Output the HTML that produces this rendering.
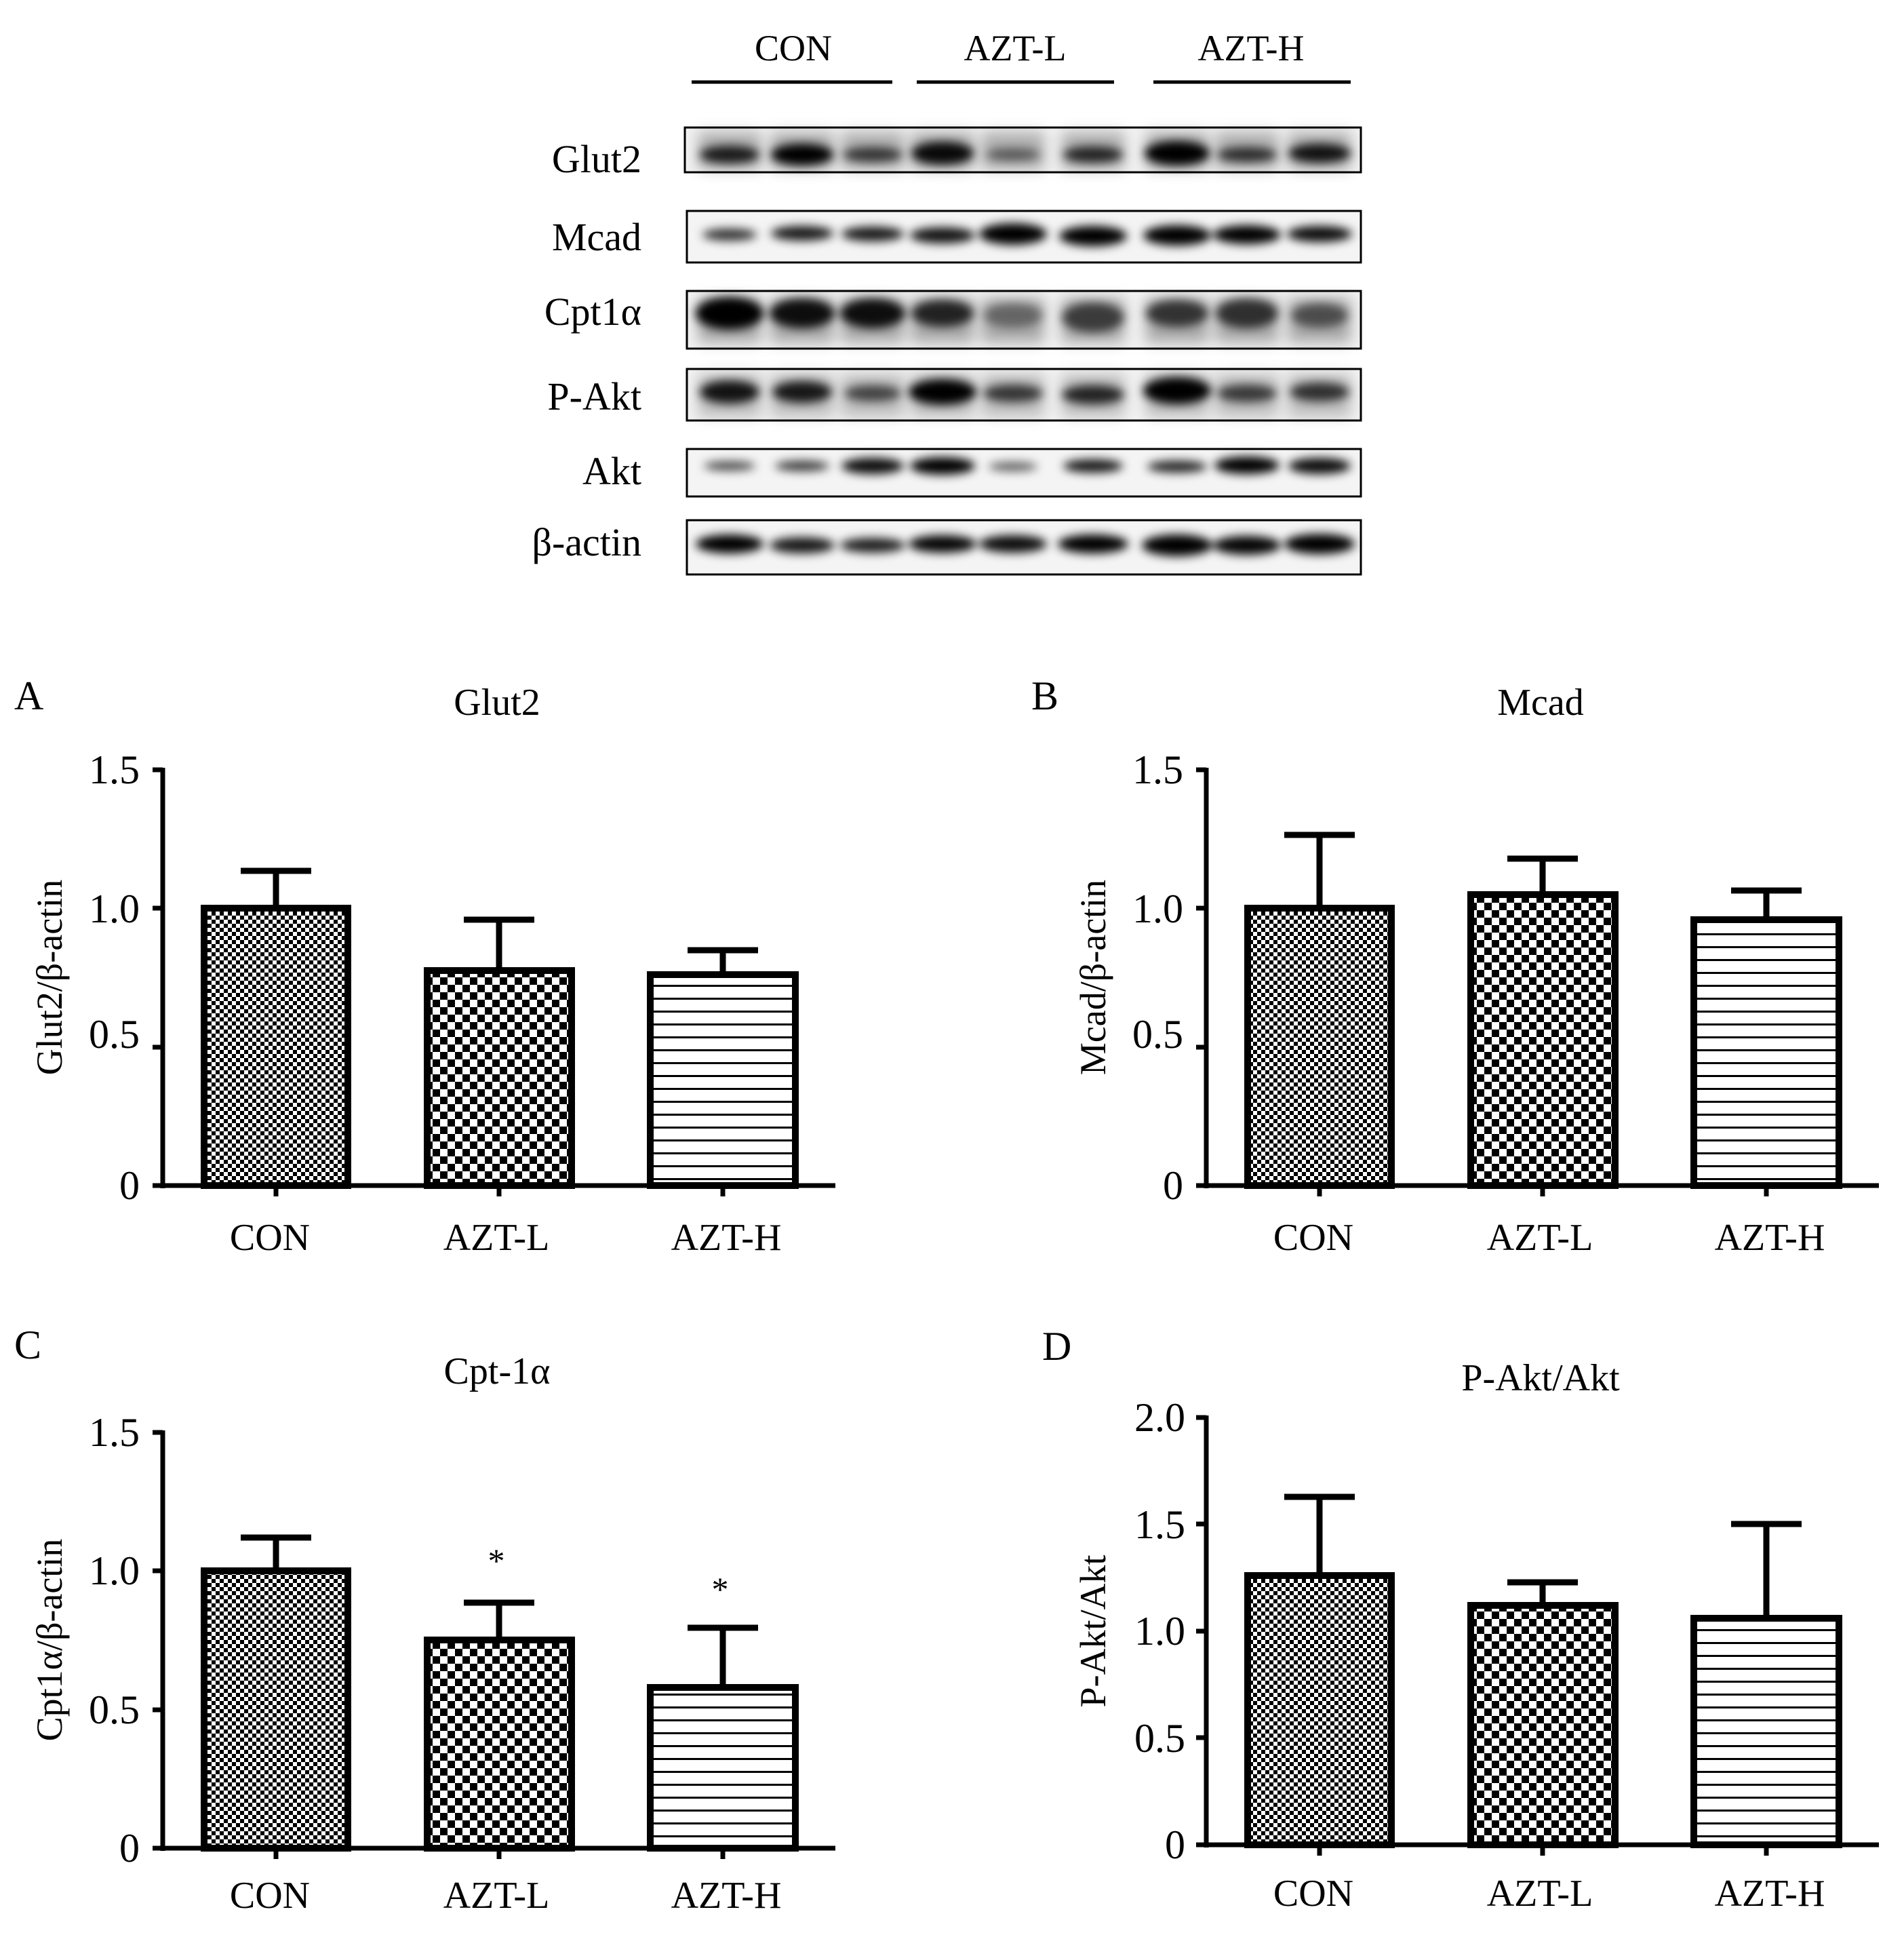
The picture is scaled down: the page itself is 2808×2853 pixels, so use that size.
<!DOCTYPE html>
<html><head><meta charset="utf-8"><style>
html,body{margin:0;padding:0;background:#fff}
svg{display:block}
text{font-family:"Liberation Serif",serif;fill:#000}
</style></head><body>
<svg width="2808" height="2853" viewBox="0 0 2808 2853" xmlns="http://www.w3.org/2000/svg">
<defs>
<pattern id="p1" width="12" height="12" patternUnits="userSpaceOnUse"><rect width="12" height="12" fill="#fff"/><rect width="6" height="6" fill="#000"/><rect x="6" y="6" width="6" height="6" fill="#000"/></pattern>
<pattern id="p2" width="22" height="22" patternUnits="userSpaceOnUse"><rect width="22" height="22" fill="#fff"/><rect width="11" height="11" fill="#000"/><rect x="11" y="11" width="11" height="11" fill="#000"/></pattern>
<pattern id="p3" width="20" height="19" patternUnits="userSpaceOnUse"><rect width="20" height="19" fill="#fff"/><rect y="8" width="20" height="3" fill="#000"/></pattern>
<filter id="bl" x="-30%" y="-100%" width="160%" height="300%"><feGaussianBlur stdDeviation="7"/></filter>
<filter id="bl2" x="-30%" y="-50%" width="160%" height="200%"><feGaussianBlur stdDeviation="10"/></filter>
</defs>

<text x="1170" y="89" font-size="54" text-anchor="middle">CON</text>
<text x="1497" y="89" font-size="54" text-anchor="middle">AZT-L</text>
<text x="1845" y="89" font-size="54" text-anchor="middle">AZT-H</text>
<g stroke="#000" stroke-width="5">
<line x1="1020" y1="121" x2="1316" y2="121"/><line x1="1352" y1="121" x2="1643" y2="121"/><line x1="1701" y1="121" x2="1992" y2="121"/>
</g>

<g font-size="58" text-anchor="end">
<text x="946" y="254">Glut2</text>
<text x="946" y="369">Mcad</text>
<text x="946" y="479">Cpt1α</text>
<text x="946" y="604">P-Akt</text>
<text x="946" y="714">Akt</text>
<text x="946" y="819">β-actin</text>
</g>

<g>
<rect x="1010" y="188" width="997" height="66" fill="#f2f2f2"/>
<rect x="1013" y="311" width="994" height="76" fill="#f4f4f4"/>
<rect x="1013" y="429" width="994" height="85" fill="#f2f2f2"/>
<rect x="1013" y="544" width="994" height="76" fill="#f2f2f2"/>
<rect x="1013" y="662" width="994" height="70" fill="#f4f4f4"/>
<rect x="1013" y="767" width="994" height="80" fill="#f4f4f4"/>
</g>
<g filter="url(#bl2)" fill="#000">
<g opacity="0.28">
<rect x="1030" y="195" width="92" height="55"/><rect x="1137" y="195" width="92" height="55"/><rect x="1241" y="195" width="92" height="55"/><rect x="1344" y="195" width="92" height="55"/><rect x="1448" y="195" width="92" height="55"/><rect x="1566" y="195" width="92" height="55"/><rect x="1690" y="195" width="92" height="55"/><rect x="1793" y="195" width="92" height="55"/><rect x="1900" y="195" width="92" height="55"/>
</g>
<g opacity="0.3">
<rect x="1030" y="440" width="92" height="65"/><rect x="1137" y="440" width="92" height="65"/><rect x="1241" y="440" width="92" height="65"/><rect x="1344" y="440" width="92" height="65"/><rect x="1448" y="440" width="92" height="65"/><rect x="1566" y="440" width="92" height="65"/><rect x="1690" y="440" width="92" height="65"/><rect x="1793" y="440" width="92" height="65"/><rect x="1900" y="440" width="92" height="65"/>
</g>
<g opacity="0.22">
<rect x="1030" y="552" width="92" height="62"/><rect x="1137" y="552" width="92" height="62"/><rect x="1241" y="552" width="92" height="62"/><rect x="1344" y="552" width="92" height="62"/><rect x="1448" y="552" width="92" height="62"/><rect x="1566" y="552" width="92" height="62"/><rect x="1690" y="552" width="92" height="62"/><rect x="1793" y="552" width="92" height="62"/><rect x="1900" y="552" width="92" height="62"/>
</g>
</g>
<g filter="url(#bl)" fill="#000">
<ellipse cx="1076" cy="228" rx="44" ry="13" opacity="0.85"/><ellipse cx="1183" cy="228" rx="46" ry="16" opacity="1"/><ellipse cx="1287" cy="228" rx="44" ry="11" opacity="0.7"/><ellipse cx="1390" cy="226" rx="46" ry="17" opacity="0.95"/><ellipse cx="1494" cy="228" rx="40" ry="9" opacity="0.5"/><ellipse cx="1612" cy="228" rx="44" ry="12" opacity="0.8"/><ellipse cx="1736" cy="226" rx="48" ry="18" opacity="1"/><ellipse cx="1839" cy="228" rx="44" ry="11" opacity="0.75"/><ellipse cx="1946" cy="226" rx="46" ry="14" opacity="0.9"/>
<ellipse cx="1076" cy="346" rx="40" ry="9" opacity="0.8"/><ellipse cx="1183" cy="344" rx="46" ry="11" opacity="0.9"/><ellipse cx="1287" cy="345" rx="46" ry="11" opacity="0.9"/><ellipse cx="1390" cy="347" rx="48" ry="12" opacity="0.92"/><ellipse cx="1494" cy="345" rx="50" ry="16" opacity="1"/><ellipse cx="1612" cy="348" rx="50" ry="15" opacity="1"/><ellipse cx="1736" cy="347" rx="50" ry="15" opacity="1"/><ellipse cx="1839" cy="346" rx="50" ry="14" opacity="1"/><ellipse cx="1946" cy="345" rx="48" ry="12" opacity="0.95"/>
<ellipse cx="1076" cy="462" rx="50" ry="24" opacity="1"/><ellipse cx="1183" cy="462" rx="48" ry="22" opacity="0.92"/><ellipse cx="1287" cy="462" rx="48" ry="22" opacity="0.92"/><ellipse cx="1390" cy="462" rx="46" ry="20" opacity="0.8"/><ellipse cx="1494" cy="465" rx="44" ry="18" opacity="0.4"/><ellipse cx="1612" cy="468" rx="46" ry="22" opacity="0.65"/><ellipse cx="1736" cy="462" rx="46" ry="20" opacity="0.7"/><ellipse cx="1839" cy="462" rx="46" ry="22" opacity="0.72"/><ellipse cx="1946" cy="465" rx="42" ry="18" opacity="0.55"/>
<ellipse cx="1076" cy="578" rx="44" ry="17" opacity="0.9"/><ellipse cx="1183" cy="578" rx="44" ry="16" opacity="0.88"/><ellipse cx="1287" cy="580" rx="42" ry="12" opacity="0.65"/><ellipse cx="1390" cy="578" rx="50" ry="19" opacity="1"/><ellipse cx="1494" cy="580" rx="44" ry="13" opacity="0.72"/><ellipse cx="1612" cy="582" rx="46" ry="14" opacity="0.82"/><ellipse cx="1736" cy="576" rx="50" ry="20" opacity="1"/><ellipse cx="1839" cy="580" rx="44" ry="13" opacity="0.7"/><ellipse cx="1946" cy="578" rx="44" ry="14" opacity="0.75"/>
<ellipse cx="1076" cy="687" rx="38" ry="7" opacity="0.7"/><ellipse cx="1183" cy="687" rx="40" ry="8" opacity="0.75"/><ellipse cx="1287" cy="687" rx="46" ry="12" opacity="0.95"/><ellipse cx="1390" cy="687" rx="48" ry="13" opacity="1"/><ellipse cx="1494" cy="688" rx="36" ry="7" opacity="0.6"/><ellipse cx="1612" cy="687" rx="44" ry="10" opacity="0.9"/><ellipse cx="1736" cy="688" rx="44" ry="9" opacity="0.85"/><ellipse cx="1839" cy="686" rx="48" ry="13" opacity="1"/><ellipse cx="1946" cy="687" rx="46" ry="12" opacity="0.95"/>
<ellipse cx="1076" cy="802" rx="50" ry="14" opacity="1"/><ellipse cx="1183" cy="804" rx="48" ry="12" opacity="0.9"/><ellipse cx="1287" cy="804" rx="48" ry="11" opacity="0.88"/><ellipse cx="1390" cy="802" rx="50" ry="13" opacity="0.98"/><ellipse cx="1494" cy="802" rx="50" ry="13" opacity="0.95"/><ellipse cx="1612" cy="802" rx="52" ry="14" opacity="1"/><ellipse cx="1736" cy="804" rx="52" ry="16" opacity="1"/><ellipse cx="1839" cy="804" rx="50" ry="14" opacity="0.98"/><ellipse cx="1946" cy="802" rx="52" ry="15" opacity="1"/>
</g>
<g fill="none" stroke="#000" stroke-width="3">
<rect x="1010" y="188" width="997" height="66"/>
<rect x="1013" y="311" width="994" height="76"/>
<rect x="1013" y="429" width="994" height="85"/>
<rect x="1013" y="544" width="994" height="76"/>
<rect x="1013" y="662" width="994" height="70"/>
<rect x="1013" y="767" width="994" height="80"/>
</g>

<!-- Panel A -->
<text x="21" y="1046" font-size="60">A</text>
<text x="733" y="1054" font-size="56" text-anchor="middle">Glut2</text>
<text transform="translate(91,1441) rotate(-90)" font-size="54" text-anchor="middle">Glut2/β-actin</text>
<g font-size="60" text-anchor="end">
<text x="206" y="1768">0</text><text x="206" y="1545">0.5</text><text x="206" y="1360">1.0</text><text x="206" y="1155">1.5</text>
</g>
<g stroke="#000" stroke-width="9" fill="none">
<line x1="407" y1="1339" x2="407" y2="1284"/><line x1="355" y1="1284" x2="459" y2="1284"/>
<line x1="736" y1="1431" x2="736" y2="1356"/><line x1="684" y1="1356" x2="788" y2="1356"/>
<line x1="1066" y1="1437" x2="1066" y2="1401"/><line x1="1014" y1="1401" x2="1118" y2="1401"/>
</g>
<g stroke="#000" stroke-width="10">
<rect x="301" y="1339" width="212" height="409" fill="url(#p1)"/>
<rect x="630" y="1431" width="213" height="317" fill="url(#p2)"/>
<rect x="959" y="1437" width="214" height="311" fill="url(#p3)"/>
</g>
<g stroke="#000" stroke-width="7">
<line x1="240" y1="1132" x2="240" y2="1752"/><line x1="236" y1="1748" x2="1232" y2="1748"/>
<line x1="225" y1="1135" x2="240" y2="1135"/><line x1="225" y1="1339" x2="240" y2="1339"/><line x1="225" y1="1544" x2="240" y2="1544"/><line x1="225" y1="1748" x2="240" y2="1748"/>
<line x1="407" y1="1748" x2="407" y2="1764"/><line x1="736" y1="1748" x2="736" y2="1764"/><line x1="1066" y1="1748" x2="1066" y2="1764"/>
</g>
<g font-size="56" text-anchor="middle"><text x="398" y="1843">CON</text><text x="732" y="1843">AZT-L</text><text x="1071" y="1843">AZT-H</text></g>

<!-- Panel B -->
<text x="1521" y="1046" font-size="60">B</text>
<text x="2272" y="1054" font-size="56" text-anchor="middle">Mcad</text>
<text transform="translate(1630,1441) rotate(-90)" font-size="54" text-anchor="middle">Mcad/β-actin</text>
<g font-size="60" text-anchor="end">
<text x="1745" y="1768">0</text><text x="1745" y="1545">0.5</text><text x="1745" y="1360">1.0</text><text x="1745" y="1155">1.5</text>
</g>
<g stroke="#000" stroke-width="9" fill="none">
<line x1="1946" y1="1339" x2="1946" y2="1231"/><line x1="1894" y1="1231" x2="1998" y2="1231"/>
<line x1="2275" y1="1319" x2="2275" y2="1266"/><line x1="2223" y1="1266" x2="2327" y2="1266"/>
<line x1="2605" y1="1356" x2="2605" y2="1313"/><line x1="2553" y1="1313" x2="2657" y2="1313"/>
</g>
<g stroke="#000" stroke-width="10">
<rect x="1840" y="1339" width="212" height="409" fill="url(#p1)"/>
<rect x="2169" y="1319" width="213" height="429" fill="url(#p2)"/>
<rect x="2498" y="1356" width="214" height="392" fill="url(#p3)"/>
</g>
<g stroke="#000" stroke-width="7">
<line x1="1779" y1="1132" x2="1779" y2="1752"/><line x1="1775" y1="1748" x2="2771" y2="1748"/>
<line x1="1764" y1="1135" x2="1779" y2="1135"/><line x1="1764" y1="1339" x2="1779" y2="1339"/><line x1="1764" y1="1544" x2="1779" y2="1544"/><line x1="1764" y1="1748" x2="1779" y2="1748"/>
<line x1="1946" y1="1748" x2="1946" y2="1764"/><line x1="2275" y1="1748" x2="2275" y2="1764"/><line x1="2605" y1="1748" x2="2605" y2="1764"/>
</g>
<g font-size="56" text-anchor="middle"><text x="1937" y="1843">CON</text><text x="2271" y="1843">AZT-L</text><text x="2610" y="1843">AZT-H</text></g>

<!-- Panel C -->
<text x="21" y="2003" font-size="60">C</text>
<text x="733" y="2040" font-size="56" text-anchor="middle">Cpt-1α</text>
<text transform="translate(91,2418) rotate(-90)" font-size="54" text-anchor="middle">Cpt1α/β-actin</text>
<g font-size="60" text-anchor="end">
<text x="206" y="2745">0</text><text x="206" y="2541">0.5</text><text x="206" y="2336">1.0</text><text x="206" y="2132">1.5</text>
</g>
<g stroke="#000" stroke-width="9" fill="none">
<line x1="407" y1="2316" x2="407" y2="2267"/><line x1="355" y1="2267" x2="459" y2="2267"/>
<line x1="736" y1="2418" x2="736" y2="2363"/><line x1="684" y1="2363" x2="788" y2="2363"/>
<line x1="1066" y1="2488" x2="1066" y2="2400"/><line x1="1014" y1="2400" x2="1118" y2="2400"/>
</g>
<g stroke="#000" stroke-width="10">
<rect x="301" y="2316" width="212" height="409" fill="url(#p1)"/>
<rect x="630" y="2418" width="213" height="307" fill="url(#p2)"/>
<rect x="959" y="2488" width="214" height="237" fill="url(#p3)"/>
</g>
<g stroke="#000" stroke-width="7">
<line x1="240" y1="2109" x2="240" y2="2729"/><line x1="236" y1="2725" x2="1232" y2="2725"/>
<line x1="225" y1="2112" x2="240" y2="2112"/><line x1="225" y1="2316" x2="240" y2="2316"/><line x1="225" y1="2521" x2="240" y2="2521"/><line x1="225" y1="2725" x2="240" y2="2725"/>
<line x1="407" y1="2725" x2="407" y2="2741"/><line x1="736" y1="2725" x2="736" y2="2741"/><line x1="1066" y1="2725" x2="1066" y2="2741"/>
</g>
<g font-size="50" text-anchor="middle"><text x="732" y="2318">*</text><text x="1062" y="2360">*</text></g>
<g font-size="56" text-anchor="middle"><text x="398" y="2813">CON</text><text x="732" y="2813">AZT-L</text><text x="1071" y="2813">AZT-H</text></g>

<!-- Panel D -->
<text x="1537" y="2005" font-size="60">D</text>
<text x="2272" y="2050" font-size="56" text-anchor="middle">P-Akt/Akt</text>
<text transform="translate(1630,2405) rotate(-90)" font-size="54" text-anchor="middle">P-Akt/Akt</text>
<g font-size="60" text-anchor="end">
<text x="1748" y="2740">0</text><text x="1748" y="2583">0.5</text><text x="1748" y="2425">1.0</text><text x="1748" y="2268">1.5</text><text x="1748" y="2110">2.0</text>
</g>
<g stroke="#000" stroke-width="9" fill="none">
<line x1="1946" y1="2323" x2="1946" y2="2207"/><line x1="1894" y1="2207" x2="1998" y2="2207"/>
<line x1="2275" y1="2367" x2="2275" y2="2333"/><line x1="2223" y1="2333" x2="2327" y2="2333"/>
<line x1="2605" y1="2386" x2="2605" y2="2247"/><line x1="2553" y1="2247" x2="2657" y2="2247"/>
</g>
<g stroke="#000" stroke-width="10">
<rect x="1840" y="2323" width="212" height="397" fill="url(#p1)"/>
<rect x="2169" y="2367" width="213" height="353" fill="url(#p2)"/>
<rect x="2498" y="2386" width="214" height="334" fill="url(#p3)"/>
</g>
<g stroke="#000" stroke-width="7">
<line x1="1779" y1="2087" x2="1779" y2="2724"/><line x1="1775" y1="2720" x2="2771" y2="2720"/>
<line x1="1764" y1="2090" x2="1779" y2="2090"/><line x1="1764" y1="2247" x2="1779" y2="2247"/><line x1="1764" y1="2405" x2="1779" y2="2405"/><line x1="1764" y1="2562" x2="1779" y2="2562"/><line x1="1764" y1="2720" x2="1779" y2="2720"/>
<line x1="1946" y1="2720" x2="1946" y2="2736"/><line x1="2275" y1="2720" x2="2275" y2="2736"/><line x1="2605" y1="2720" x2="2605" y2="2736"/>
</g>
<g font-size="56" text-anchor="middle"><text x="1937" y="2810">CON</text><text x="2271" y="2810">AZT-L</text><text x="2610" y="2810">AZT-H</text></g>
</svg>
</body></html>
